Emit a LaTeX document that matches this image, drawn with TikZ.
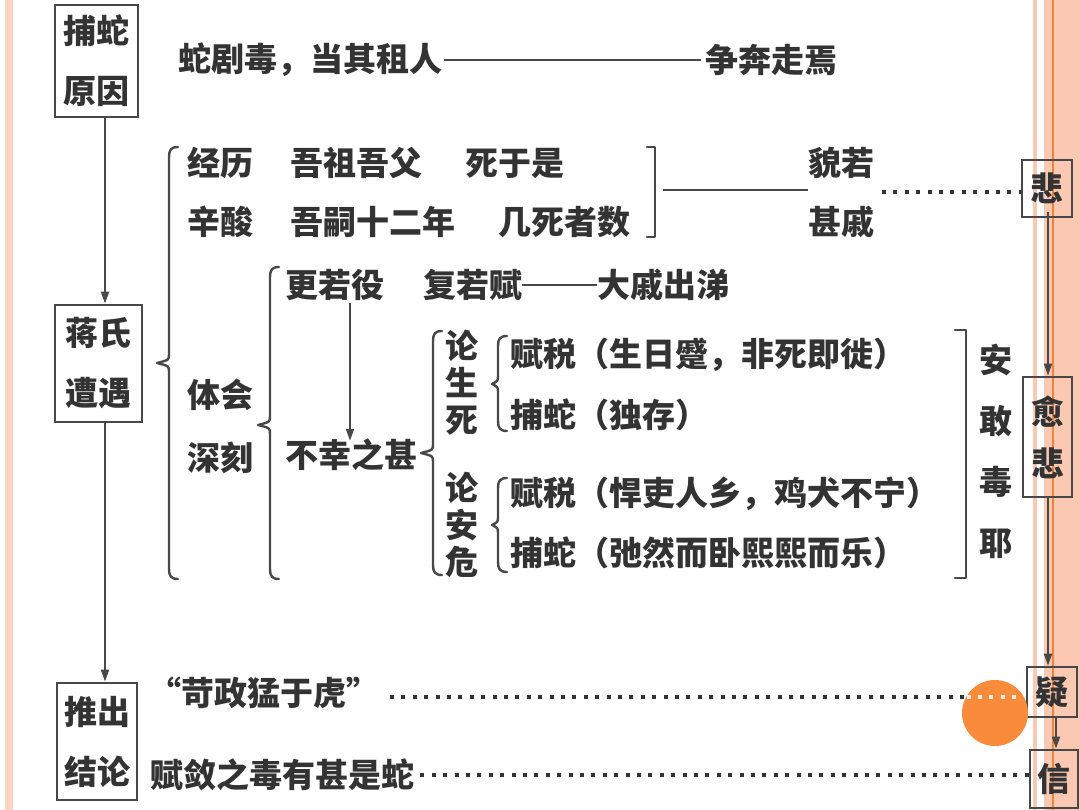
\documentclass[tikz,border=0pt]{standalone}
\usepackage{fontspec}
\setmainfont{Noto Sans CJK SC}
\usetikzlibrary{arrows.meta}
\definecolor{ink}{HTML}{333333}
\definecolor{lin}{HTML}{484848}
\definecolor{salmon}{HTML}{FBC8B2}
\definecolor{paleS}{HTML}{FFD3C6}
\definecolor{orng}{HTML}{F2823A}
\definecolor{circ}{HTML}{F98B3B}
\newcommand{\mybrace}[5]{% x, top, tip y, bottom, tip depth
  \draw[brc] (#1+9,#2) .. controls (#1+2,#2) and (#1,#2+3) .. (#1,#2+10)
    -- (#1,#3-9) .. controls (#1,#3-3) .. (#1-#5,#3)
    .. controls (#1,#3+3) .. (#1,#3+9)
    -- (#1,#4-10) .. controls (#1,#4-3) and (#1+2,#4) .. (#1+9,#4);}
\begin{document}
\begin{tikzpicture}[x=1pt,y=-1pt,
  txt/.style={anchor=west,inner sep=0pt,text=ink,font=\fontsize{33}{40}\selectfont\bfseries},
  col/.style={inner sep=0pt,align=center,text=ink},
  box/.style={draw=lin,line width=2.8pt,inner sep=0pt,align=center,text=ink},
  conn/.style={draw=lin,line width=2pt},
  arr/.style={conn,-{Triangle[length=12pt,width=8pt]}},
  dotl/.style={draw=ink,line width=4pt,dash pattern=on 4pt off 7.4pt},
  brc/.style={draw=lin,line width=2.4pt,line join=round,line cap=round}]
% background
\useasboundingbox (0,0) rectangle (1080,810);
\fill[white] (0,0) rectangle (1080,810);
\fill[paleS] (5,0) rectangle (13,810);
\fill[salmon] (1033,0) rectangle (1080,810);
\fill[white] (1037,0) rectangle (1044,810);
\fill[orng] (1052,0) rectangle (1054,810);

% left boxes
\node[box,minimum width=83pt,minimum height=112pt,font=\fontsize{33}{60}\selectfont\bfseries] (b1) at (96.5,61) {捕蛇\\原因};
\node[box,minimum width=87pt,minimum height=117pt,font=\fontsize{33}{60}\selectfont\bfseries] (b2) at (98.5,363.5) {蒋氏\\遭遇};
\node[box,minimum width=80pt,minimum height=117pt,font=\fontsize{33}{60}\selectfont\bfseries] (b3) at (97,741.5) {推出\\结论};
\coordinate (ax) at (105,0);
\draw[arr] (b1.south -| ax) -- (b2.north -| ax);
\draw[arr] (b2.south -| ax) -- (b3.north -| ax);

% right boxes
\node[box,minimum width=50pt,minimum height=57pt,font=\fontsize{33}{40}\selectfont\bfseries] (bei) at (1047,188.5) {悲};
\node[box,minimum width=49pt,minimum height=120pt,font=\fontsize{33}{52}\selectfont\bfseries] (yub) at (1047.5,437) {愈\\悲};
\node[box,minimum width=50pt,minimum height=50pt,font=\fontsize{33}{40}\selectfont\bfseries] (yi) at (1052,692) {疑};
\node[box,minimum width=48pt,minimum height=58pt,font=\fontsize{33}{40}\selectfont\bfseries] (xin) at (1054,779) {信};
\coordinate (rx) at (1048,0);
\coordinate (rx2) at (1056,0);
\draw[arr] ([yshift=6pt]bei.south -| rx) -- (yub.north -| rx);
\draw[arr] (yub.south -| rx) -- (yi.north -| rx);
\draw[arr] (yi.south -| rx2) -- (xin.north -| rx2);

% row 1
\node[txt] (t1) at (178,60) {蛇剧毒，当其租人};
\node[txt] (t1b) at (705,60) {争奔走焉};
\draw[conn,line width=2.5pt] ([xshift=2pt]t1.east) -- ([xshift=-4pt]t1b.west);

% brace 1
\mybrace{169}{147}{363}{579}{12}
\node[txt] (jl) at (187,163) {经历};
\node[txt] (wz) at (290,163) {吾祖吾父};
\node[txt] (sy) at (465,163) {死于是};
\node[txt] (xs) at (187,222) {辛酸};
\node[txt] (ws) at (290,222) {吾嗣十二年};
\node[txt] (js) at (498,222) {几死者数};
\node[txt] (th) at (187,395) {体会};
\node[txt] (sk) at (187,458) {深刻};

\draw[brc] (647,147) -- (655,147) -- (655,237) -- (647,237);
\node[txt] (mr) at (808,163) {貌若};
\node[txt] (sq) at (808,222) {甚戚};
\coordinate (bm) at (663,190);
\draw[conn,line width=2.5pt] (bm) -- (bm -| mr.west);
\coordinate (d1) at (882,192);
\draw[dotl] (d1) -- (d1 -| bei.west);

% brace 2
\mybrace{270}{267}{425}{579}{12}
\node[txt] (gr) at (285,285) {更若役};
\node[txt] (fr) at (423,285) {复若赋};
\node[txt] (dq) at (597,285) {大戚出涕};
\draw[conn,line width=2.5pt] (fr.east) -- (dq.west);
\node[txt] (bx) at (285,455) {不幸之甚};
\coordinate (ax2) at (350,0);
\draw[arr] ([yshift=-2pt]gr.south -| ax2) -- ([yshift=-2pt]bx.north -| ax2);

% brace 3
\mybrace{433}{331}{453}{575}{12}
\node[col,font=\fontsize{33}{37}\selectfont\bfseries] (lss) at (462,383) {论\\生\\死};
\node[col,font=\fontsize{33}{37}\selectfont\bfseries] (law) at (462,525) {论\\安\\危};
\mybrace{498}{336}{384}{431}{6}
\mybrace{498}{478}{525}{572}{6}
\node[txt] (f1) at (510,355) {赋税（生日蹙，非死即徙）};
\node[txt] (p1) at (510,415) {捕蛇（独存）};
\node[txt] (f2) at (510,494) {赋税（悍吏人乡，鸡犬不宁）};
\node[txt] (p2) at (510,553) {捕蛇（弛然而卧熙熙而乐）};
\draw[brc] (955,330) -- (966,330) -- (966,578) -- (955,578);
\node[col,font=\fontsize{33}{61}\selectfont\bfseries] (ag) at (996,451) {安\\敢\\毒\\耶};

% bottom rows
\node[txt] (kz) at (148,693) {“苛政猛于虎”};
\node[txt] (fl) at (150,775) {赋敛之毒有甚是蛇};
\coordinate (d2) at (390,697);
\draw[dotl] (d2) -- (d2 -| yi.west);
\coordinate (d3) at ([xshift=6pt]fl.east);
\draw[dotl] (d3) -- (d3 -| xin.west);
\fill[circ] (995,713) circle (33);
\draw[dotl,draw=white!85!circ] (966.6,697) -- (1022,697);
\end{tikzpicture}
\end{document}
